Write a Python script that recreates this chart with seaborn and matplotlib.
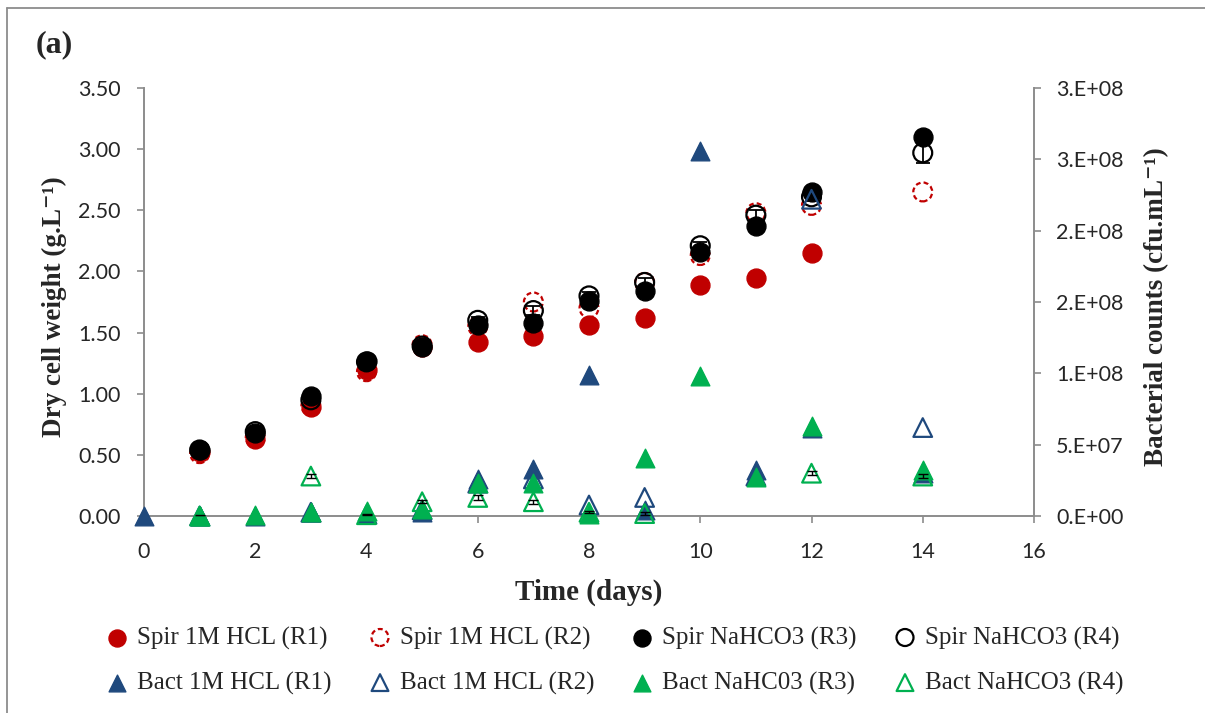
import numpy as np
import pandas as pd
import matplotlib
matplotlib.use("Agg")
import matplotlib.pyplot as plt
from matplotlib.lines import Line2D
import seaborn as sns

# ---------------- data ----------------
spir_days_12 = [1, 2, 3, 4, 5, 6, 7, 8, 9, 10, 11, 12]
spir_days_14 = [1, 2, 3, 4, 5, 6, 7, 8, 9, 10, 11, 12, 14]

spir_r1 = [0.52, 0.63, 0.89, 1.19, 1.38, 1.42, 1.47, 1.56, 1.62, 1.89, 1.95, 2.15]
spir_r2 = [0.51, 0.64, 0.90, 1.18, 1.40, 1.55, 1.75, 1.70, 1.91, 2.13, 2.48, 2.54, 2.65]
spir_r3 = [0.54, 0.68, 0.98, 1.27, 1.38, 1.56, 1.58, 1.76, 1.84, 2.16, 2.37, 2.65, 3.10]
spir_r4 = [0.54, 0.69, 0.95, 1.26, 1.39, 1.60, 1.68, 1.80, 1.91, 2.21, 2.46, 2.61, 2.97]
spir_r4_err = [0.02, 0.02, 0.03, 0.02, 0.02, 0.03, 0.04, 0.03, 0.04, 0.03, 0.04, 0.03, 0.08]

bact_r1_days = [0, 1, 2, 3, 4, 5, 6, 7, 8, 9, 10, 11, 12, 14]
bact_r1 = [0, 0, 0, 2.6e6, 1.7e6, 2.6e6, 2.6e7, 3.3e7, 9.9e7, 4.3e6, 2.56e8, 3.2e7, 6.2e7, 3.0e7]
bact_r2_days = [1, 3, 5, 6, 7, 8, 9, 11, 12, 14]
bact_r2 = [0, 2.6e6, 4.3e6, 2.3e7, 2.6e7, 7.7e6, 1.3e7, 2.8e7, 2.22e8, 6.2e7]
bact_r3_days = [1, 2, 3, 4, 5, 6, 7, 8, 9, 10, 11, 12, 14]
bact_r3 = [0, 9e5, 2.6e6, 3.4e6, 5.1e6, 2.3e7, 2.3e7, 1.7e6, 4.1e7, 9.8e7, 2.7e7, 6.3e7, 3.2e7]
bact_r4_days = [1, 3, 4, 5, 6, 7, 8, 9, 12, 14]
bact_r4 = [0, 2.8e7, 9e5, 1.0e7, 1.3e7, 1.0e7, 2.6e6, 1.7e6, 3.0e7, 2.8e7]
bact_r4_err = [5e5, 1.5e6, 5e5, 1.2e6, 1.5e6, 1.5e6, 8e5, 8e5, 1.5e6, 1.5e6]

x_ticks = [0, 2, 4, 6, 8, 10, 12, 14, 16]
left_ticks = [0.0, 0.5, 1.0, 1.5, 2.0, 2.5, 3.0, 3.5]
right_ticks = [0, 5e7, 1e8, 1.5e8, 2e8, 2.5e8, 3e8]
right_tick_labels = ["0.E+00", "5.E+07", "1.E+08", "2.E+08", "2.E+08", "3.E+08", "3.E+08"]

labels = ["Spir 1M HCL (R1)", "Spir 1M HCL (R2)", "Spir NaHCO3 (R3)", "Spir NaHCO3 (R4)",
          "Bact 1M HCL (R1)", "Bact 1M HCL (R2)", "Bact NaHC03 (R3)", "Bact NaHCO3 (R4)"]

# ---------------- style ----------------
sns.set_style("white")
SERIF = ["Liberation Serif", "DejaVu Serif"]
SANS = ["Lato", "DejaVu Sans"]
plt.rcParams["font.family"] = SANS

RED = "#C00000"
NAVY = "#1F497D"
GREEN = "#00B050"
GRAY = "#8C8C8C"

W, H = 1205, 713
fig = plt.figure(figsize=(W / 100, H / 100), dpi=100)
ax_l, ax_r, ax_t, ax_b = 144, 1034, 88, 516
ax = fig.add_axes([ax_l / W, 1 - ax_b / H, (ax_r - ax_l) / W, (ax_b - ax_t) / H])
ax2 = ax.twinx()

S_CIRC = 185
S_TRI = 180

def df(x, y):
    return pd.DataFrame({"x": x, "y": y})

common = dict(x="x", y="y", legend=False, clip_on=False)

# Spirulina (primary axis)
sns.scatterplot(data=df(spir_days_12, spir_r1), ax=ax, marker="o", s=S_CIRC,
                color=RED, edgecolor=RED, linewidth=1, zorder=3, label=labels[0], **common)
sns.scatterplot(data=df(spir_days_14, spir_r2), ax=ax, marker="o", s=S_CIRC,
                color=RED, facecolor="none", edgecolor=RED, linewidth=1.6,
                linestyle=(0, (2.2, 1.4)), zorder=4, label=labels[1], **common)
sns.scatterplot(data=df(spir_days_14, spir_r3), ax=ax, marker="o", s=S_CIRC,
                color="black", edgecolor="black", linewidth=1, zorder=5, label=labels[2], **common)
sns.scatterplot(data=df(spir_days_14, spir_r4), ax=ax, marker="o", s=S_CIRC,
                color="black", facecolor="none", edgecolor="black", linewidth=1.6,
                zorder=6, label=labels[3], **common)
ax.errorbar(spir_days_14, spir_r4, yerr=spir_r4_err, fmt="none", ecolor="black",
            elinewidth=1.3, capsize=5, capthick=1.3, zorder=7)

# Bacteria (secondary axis)
sns.scatterplot(data=df(bact_r1_days, bact_r1), ax=ax2, marker="^", s=S_TRI,
                color=NAVY, edgecolor=NAVY, linewidth=1, zorder=3, label=labels[4], **common)
sns.scatterplot(data=df(bact_r2_days, bact_r2), ax=ax2, marker="^", s=S_TRI,
                color=NAVY, facecolor="none", edgecolor=NAVY, linewidth=1.6,
                zorder=4, label=labels[5], **common)
sns.scatterplot(data=df(bact_r3_days, bact_r3), ax=ax2, marker="^", s=S_TRI,
                color=GREEN, edgecolor=GREEN, linewidth=1, zorder=5, label=labels[6], **common)
sns.scatterplot(data=df(bact_r4_days, bact_r4), ax=ax2, marker="^", s=S_TRI,
                color=GREEN, facecolor="none", edgecolor=GREEN, linewidth=1.6,
                zorder=6, label=labels[7], **common)
ax2.errorbar(bact_r4_days, bact_r4, yerr=bact_r4_err, fmt="none", ecolor="black",
             elinewidth=1.0, capsize=3.5, capthick=1.0, zorder=7)

handles_spir = list(ax.collections[:4])
handles_bact = list(ax2.collections[:4])

# ---------------- axes ----------------
ax.set_xlim(0, 16)
ax.set_ylim(0, 3.5)
ax2.set_ylim(0, 3.0e8)
ax.set_xticks(x_ticks)
ax.set_yticks(left_ticks)
ax.set_yticklabels([f"{v:.2f}" for v in left_ticks])
ax2.set_yticks(right_ticks)
ax2.set_yticklabels(right_tick_labels)

for a in (ax, ax2):
    for sp in a.spines.values():
        sp.set_visible(False)
    a.grid(False)
    a.set_facecolor("none")
ax.spines["left"].set_visible(True)
ax.spines["bottom"].set_visible(True)
ax2.spines["right"].set_visible(True)
for sp in (ax.spines["left"], ax.spines["bottom"], ax2.spines["right"]):
    sp.set_color(GRAY)
    sp.set_linewidth(1.4)
    sp.set_zorder(0)

ax.tick_params(axis="x", direction="out", length=5, width=1.2, color=GRAY,
               labelsize=15.5, pad=14, bottom=True)
ax.tick_params(axis="y", direction="out", length=5, width=1.2, color=GRAY,
               labelsize=15.5, pad=12, left=True)
ax2.tick_params(axis="y", direction="out", length=5, width=1.2, color=GRAY,
                labelsize=15.5, pad=11, right=True)
for t in ax.get_xticklabels() + ax.get_yticklabels() + ax2.get_yticklabels():
    t.set_family(SANS)

ax.set_xlabel("Time (days)", family=SERIF, fontweight="bold", fontsize=21)
ax.set_ylabel("Dry cell weight (g.L\u207b\u00b9)", family=SERIF, fontweight="bold", fontsize=19.5)
ax2.set_ylabel("Bacterial counts (cfu.mL\u207b\u00b9)", family=SERIF, fontweight="bold", fontsize=19.5)
ax.xaxis.set_label_coords(0.5, (ax_b - 592) / (ax_b - ax_t))
ax.xaxis.label.set_va("center")
ax.yaxis.set_label_coords((54 - ax_l) / (ax_r - ax_l), 0.49)
ax.yaxis.label.set_va("center")
ax2.yaxis.set_label_coords((1157 - ax_l) / (ax_r - ax_l), 0.49)
ax2.yaxis.label.set_va("center")
ax2.yaxis.label.set_rotation(90)

ax.set_zorder(ax2.get_zorder() - 1)

# title
fig.text(36 / W, 1 - 45 / H, "(a)", family=SERIF, fontweight="bold", fontsize=23,
         ha="left", va="center")

# chart border (top and left visible)
fig.add_artist(Line2D([7.5 / W, 7.5 / W], [0, 1 - 8 / H], color=GRAY, lw=1.3,
                      transform=fig.transFigure))
fig.add_artist(Line2D([7.5 / W, 1], [1 - 8 / H, 1 - 8 / H], color=GRAY, lw=1.3,
                      transform=fig.transFigure))

# legend: four columns, each with Spir (top) and Bact (bottom)
marker_x = [117, 380, 642, 905]
leg_fs = 18
hl = 1.0
for i, mx in enumerate(marker_x):
    x_left = mx - hl * leg_fs * 100 / 72 / 2
    leg = fig.legend([handles_spir[i], handles_bact[i]], [labels[i], labels[4 + i]],
                     loc="center left", bbox_to_anchor=(x_left / W, 1 - 660.5 / H),
                     frameon=False, borderpad=0, borderaxespad=0, handlelength=hl,
                     handletextpad=0.3, labelspacing=0.88, markerscale=0.9,
                     prop={"family": SERIF, "size": leg_fs})

fig.savefig("out.png", dpi=100)
